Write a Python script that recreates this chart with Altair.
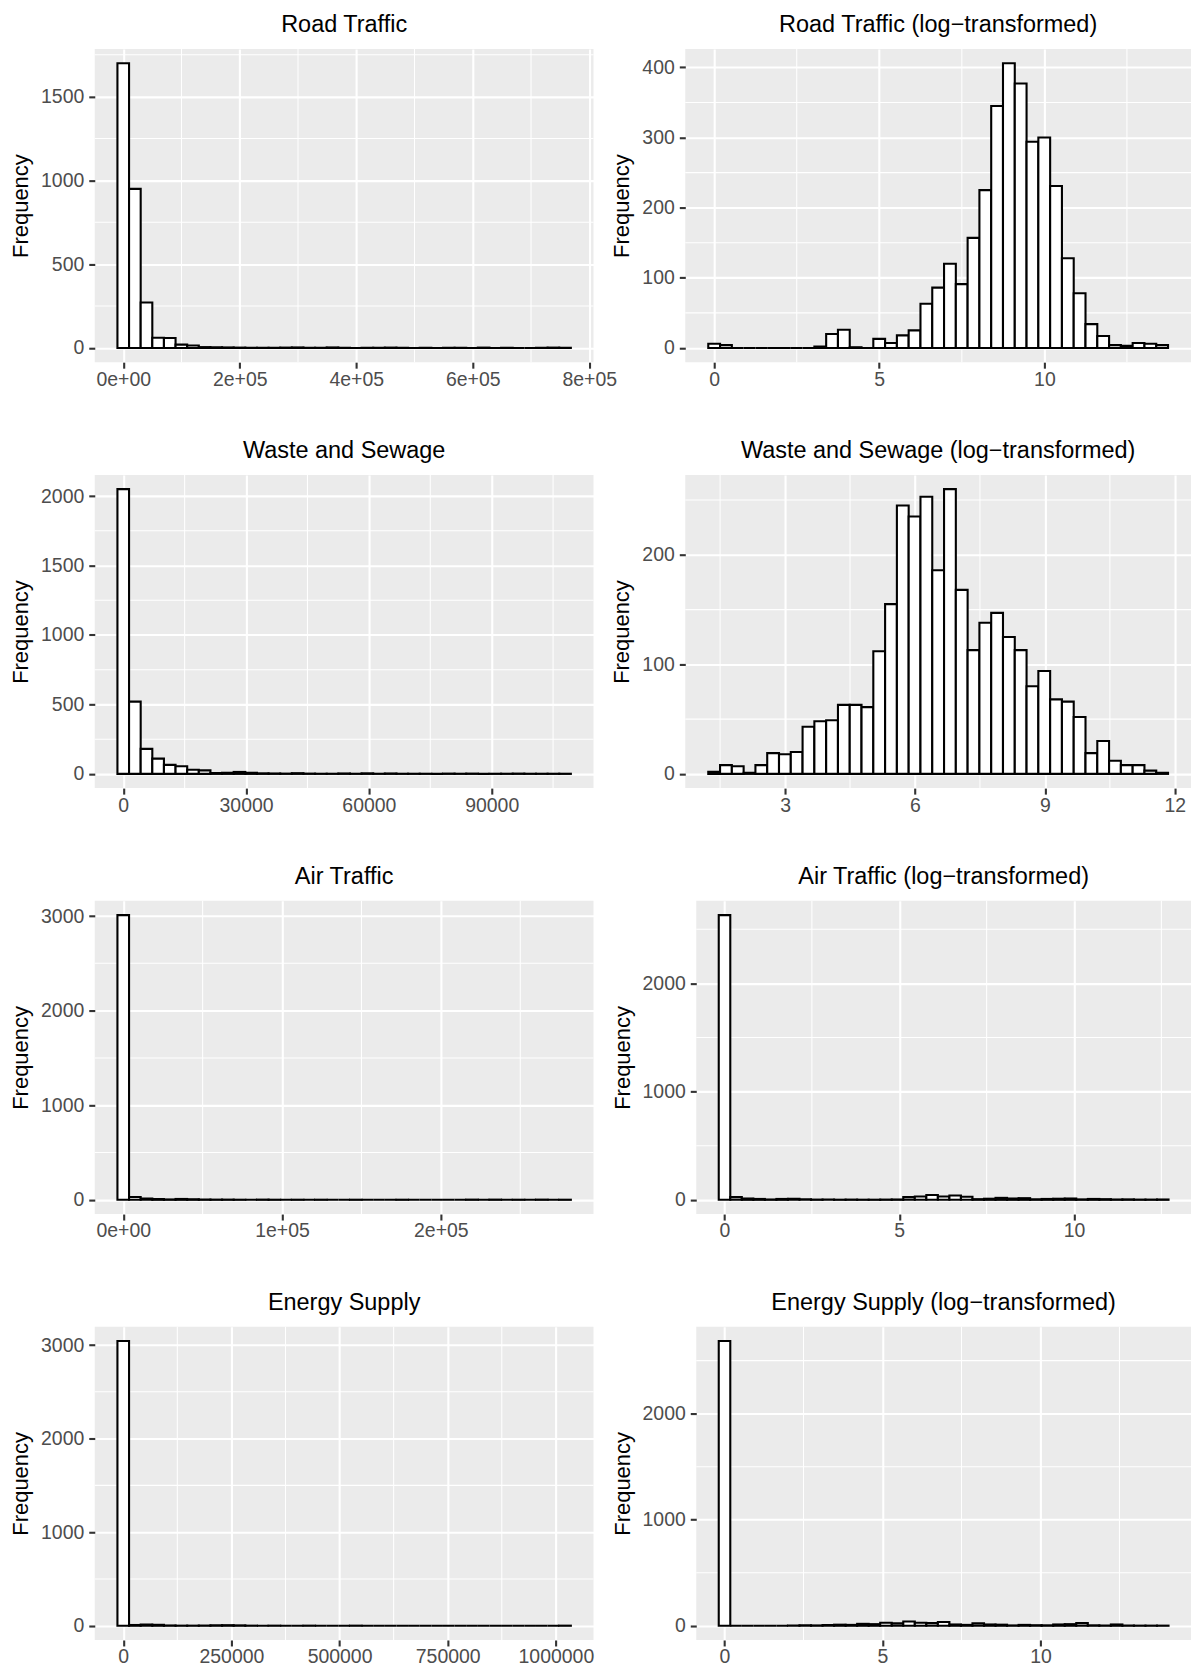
import altair as alt
import pandas as pd

FONT = "Liberation Sans"
LABEL_GREY = "#4D4D4D"
TICK_GREY = "#333333"
PANEL_BG = "#EBEBEB"

# ---- Road traffic -------------------------------------------------------
ROAD_COUNTS = [1700, 950, 271, 61, 59, 20, 15, 5, 4, 3, 2, 1, 1, 1, 2, 3, 1, 1, 3, 1,
               0, 1, 1, 2, 1, 0, 1, 0, 1, 1, 0, 2, 0, 1, 0, 0, 1, 2, 1]
ROAD_BIN = [0.0, 19958.0]          # first bin centre, bin width
ROAD_X_TICKS = [0, 200000, 400000, 600000, 800000]
ROAD_X_LABELS = ["0e+00", "2e+05", "4e+05", "6e+05", "8e+05"]
ROAD_Y_TICKS = [0, 500, 1000, 1500]

ROAD_LOG_COUNTS = [6, 4, 0, 0, 0, 0, 0, 0, 0, 2, 20, 26, 1, 0, 13, 7, 18, 25, 63, 86,
                   120, 91, 157, 225, 345, 406, 377, 294, 300, 231, 128, 78, 34, 17, 4, 3, 7, 6, 4]
ROAD_LOG_BIN = [0.0, 0.357]
ROAD_LOG_X_TICKS = [0, 5, 10]
ROAD_LOG_X_LABELS = ["0", "5", "10"]
ROAD_LOG_Y_TICKS = [0, 100, 200, 300, 400]

# ---- Waste and sewage ---------------------------------------------------
WASTE_COUNTS = [2050, 520, 180, 110, 65, 55, 30, 25, 6, 8, 14, 8, 4, 3, 2, 5, 2, 1, 1, 3,
                1, 4, 1, 3, 1, 1, 1, 0, 2, 1, 2, 0, 1, 1, 2, 1, 1, 1, 1]
WASTE_BIN = [0.0, 2840.0]
WASTE_X_TICKS = [0, 30000, 60000, 90000]
WASTE_X_LABELS = ["0", "30000", "60000", "90000"]
WASTE_Y_TICKS = [0, 500, 1000, 1500, 2000]

WASTE_LOG_COUNTS = [2, 8, 7, 1, 8, 19, 18, 20, 43, 48, 49, 63, 63, 61, 112, 155, 245, 235, 253, 186,
                    260, 168, 113, 138, 147, 125, 113, 80, 94, 68, 66, 52, 19, 30, 12, 8, 8, 3, 1]
WASTE_LOG_BIN = [1.363, 0.2722]
WASTE_LOG_X_TICKS = [3, 6, 9, 12]
WASTE_LOG_X_LABELS = ["3", "6", "9", "12"]
WASTE_LOG_Y_TICKS = [0, 100, 200]

# ---- Air traffic --------------------------------------------------------
AIR_COUNTS = [3010, 30, 14, 8, 4, 9, 6, 3, 2, 2, 1, 0, 2, 1, 0, 1, 0, 1, 0, 0,
              1, 0, 0, 0, 1, 0, 0, 0, 0, 0, 2, 0, 2, 0, 1, 0, 2, 0, 1]
AIR_BIN = [0.0, 7321.0]
AIR_X_TICKS = [0, 100000, 200000]
AIR_X_LABELS = ["0e+00", "1e+05", "2e+05"]
AIR_Y_TICKS = [0, 1000, 2000, 3000]

AIR_LOG_COUNTS = [2630, 25, 12, 8, 3, 8, 10, 5, 2, 3, 1, 2, 1, 1, 2, 3, 25, 30, 45, 30,
                  40, 28, 6, 10, 18, 12, 15, 5, 8, 10, 12, 4, 8, 6, 3, 4, 2, 2, 3]
AIR_LOG_BIN = [0.0, 0.33]
AIR_LOG_X_TICKS = [0, 5, 10]
AIR_LOG_X_LABELS = ["0", "5", "10"]
AIR_LOG_Y_TICKS = [0, 1000, 2000]

# ---- Energy supply ------------------------------------------------------
ENERGY_COUNTS = [3043, 8, 12, 10, 3, 1, 1, 2, 5, 6, 4, 1, 0, 1, 0, 0, 1, 0, 0, 0,
                 1, 0, 0, 0, 0, 0, 0, 0, 0, 0, 0, 0, 0, 0, 0, 0, 0, 0, 1]
ENERGY_BIN = [0.0, 26872.0]
ENERGY_X_TICKS = [0, 250000, 500000, 750000, 1000000]
ENERGY_X_LABELS = ["0", "250000", "500000", "750000", "1000000"]
ENERGY_Y_TICKS = [0, 1000, 2000, 3000]

ENERGY_LOG_COUNTS = [2685, 0, 0, 0, 0, 0, 3, 5, 3, 6, 10, 8, 18, 15, 28, 22, 40, 28, 25, 35,
                     12, 8, 22, 12, 10, 3, 8, 5, 4, 12, 15, 25, 4, 2, 12, 2, 1, 1, 1]
ENERGY_LOG_BIN = [0.0, 0.365]
ENERGY_LOG_X_TICKS = [0, 5, 10]
ENERGY_LOG_X_LABELS = ["0", "5", "10"]
ENERGY_LOG_Y_TICKS = [0, 1000, 2000]

PANEL_HEIGHT = 314


def label_expr(values, labels):
    expr = "''"
    for v, lab in reversed(list(zip(values, labels))):
        expr = f"datum.value == {v} ? '{lab}' : ({expr})"
    return expr


def minor_breaks(major, lo, hi):
    step = major[1] - major[0]
    cands = [major[0] - step / 2]
    cands += [(a + b) / 2 for a, b in zip(major, major[1:])]
    cands += [major[-1] + step / 2]
    return [c for c in cands if lo <= c <= hi]


def histogram_panel(title, counts, bin_spec, x_ticks, x_labels, y_ticks, width):
    centre0, bw = bin_spec
    n = len(counts)
    left = [centre0 - bw / 2 + i * bw for i in range(n)]
    bars = pd.DataFrame({
        "x0": left,
        "x1": [v + bw for v in left],
        "count": counts,
        "base": [0] * n,
    })

    # 5% expansion on both axes, as ggplot does
    span = n * bw
    x_dom = [left[0] - 0.05 * span, left[0] + span + 0.05 * span]
    ymax = max(counts)
    y_dom = [-0.05 * ymax, 1.05 * ymax]
    xs = alt.Scale(domain=x_dom, nice=False, zero=False)
    ys = alt.Scale(domain=y_dom, nice=False, zero=False)

    common_axis = dict(
        grid=True, gridColor="white", gridWidth=2.1, domain=False,
        tickColor=TICK_GREY, tickSize=6, tickWidth=2.1,
        labelColor=LABEL_GREY, labelFont=FONT, labelFontSize=19.5,
        labelFlush=False, labelOverlap=False,
    )
    x_axis = alt.Axis(values=x_ticks, labelExpr=label_expr(x_ticks, x_labels),
                      title=None, labelPadding=2, **common_axis)
    y_axis = alt.Axis(values=y_ticks, format="d", title="Frequency", titleFont=FONT,
                      titleFontSize=22, titleFontWeight="normal", titleColor="black",
                      titlePadding=8, labelPadding=5, **common_axis)

    minor_x = alt.Chart(pd.DataFrame({"v": minor_breaks(x_ticks, *x_dom)})).mark_rule(
        color="white", strokeWidth=1.05
    ).encode(x=alt.X("v:Q", scale=xs, axis=x_axis))
    minor_y = alt.Chart(pd.DataFrame({"v": minor_breaks(y_ticks, *y_dom)})).mark_rule(
        color="white", strokeWidth=1.05
    ).encode(y=alt.Y("v:Q", scale=ys, axis=y_axis))

    hist = alt.Chart(bars).mark_rect(
        fill="white", stroke="black", strokeWidth=2.1
    ).encode(
        x=alt.X("x0:Q", scale=xs, axis=x_axis),
        x2="x1:Q",
        y=alt.Y("count:Q", scale=ys, axis=y_axis),
        y2="base:Q",
    )

    return alt.layer(minor_x, minor_y, hist).properties(
        width=width, height=PANEL_HEIGHT,
        title=alt.TitleParams(
            title, font=FONT, fontSize=23.5, fontWeight="normal", color="black",
            anchor="middle", frame="group", offset=12,
        ),
    )


rows = [
    alt.hconcat(
        histogram_panel("Road Traffic", ROAD_COUNTS, ROAD_BIN,
                        ROAD_X_TICKS, ROAD_X_LABELS, ROAD_Y_TICKS, 500),
        histogram_panel("Road Traffic (log−transformed)", ROAD_LOG_COUNTS, ROAD_LOG_BIN,
                        ROAD_LOG_X_TICKS, ROAD_LOG_X_LABELS, ROAD_LOG_Y_TICKS, 507),
        spacing=92, bounds="flush",
    ),
    alt.hconcat(
        histogram_panel("Waste and Sewage", WASTE_COUNTS, WASTE_BIN,
                        WASTE_X_TICKS, WASTE_X_LABELS, WASTE_Y_TICKS, 500),
        histogram_panel("Waste and Sewage (log−transformed)", WASTE_LOG_COUNTS, WASTE_LOG_BIN,
                        WASTE_LOG_X_TICKS, WASTE_LOG_X_LABELS, WASTE_LOG_Y_TICKS, 507),
        spacing=92, bounds="flush",
    ),
    alt.hconcat(
        histogram_panel("Air Traffic", AIR_COUNTS, AIR_BIN,
                        AIR_X_TICKS, AIR_X_LABELS, AIR_Y_TICKS, 500),
        histogram_panel("Air Traffic (log−transformed)", AIR_LOG_COUNTS, AIR_LOG_BIN,
                        AIR_LOG_X_TICKS, AIR_LOG_X_LABELS, AIR_LOG_Y_TICKS, 496),
        spacing=103, bounds="flush",
    ),
    alt.hconcat(
        histogram_panel("Energy Supply", ENERGY_COUNTS, ENERGY_BIN,
                        ENERGY_X_TICKS, ENERGY_X_LABELS, ENERGY_Y_TICKS, 500),
        histogram_panel("Energy Supply (log−transformed)", ENERGY_LOG_COUNTS, ENERGY_LOG_BIN,
                        ENERGY_LOG_X_TICKS, ENERGY_LOG_X_LABELS, ENERGY_LOG_Y_TICKS, 496),
        spacing=103, bounds="flush",
    ),
]

chart = alt.vconcat(*rows, spacing=49).properties(
    padding={"left": 9, "top": 10, "right": 6, "bottom": 6},
    background="white",
).configure_view(
    fill=PANEL_BG, stroke="transparent", strokeWidth=0
)

chart.save("out.html", embed_options={"renderer": "svg", "actions": False})
